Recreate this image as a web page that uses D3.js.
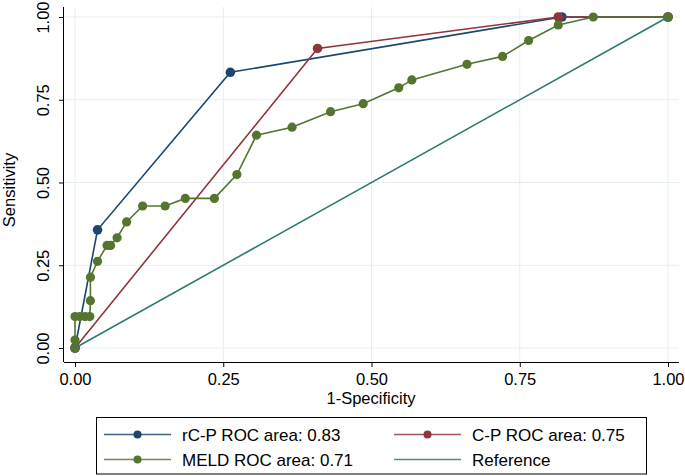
<!DOCTYPE html>
<html><head><meta charset="utf-8">
<script src="https://cdn.jsdelivr.net/npm/d3@7"></script>
<style>body{margin:0;background:#fff}svg{display:block;font-family:"Liberation Sans",Arial,Helvetica,sans-serif}</style>
</head><body><svg id="c" width="685" height="476"></svg>
<script>
const rcpFpr = [0, 0.038, 0.262, 0.821, 1];
const rcpTpr = [0, 0.357, 0.833, 1, 1];
const cpFpr = [0, 0.409, 0.815, 1];
const cpTpr = [0, 0.905, 1, 1];
const meldFpr = [0, 0, 0, 0.008, 0.017, 0.025, 0.026, 0.026, 0.038, 0.054, 0.06, 0.071, 0.087, 0.114, 0.152, 0.186, 0.235, 0.273, 0.306, 0.366, 0.431, 0.486, 0.546, 0.568, 0.661, 0.721, 0.765, 0.815, 0.874, 1, 1];
const meldTpr = [0, 0.024, 0.095, 0.095, 0.095, 0.095, 0.143, 0.214, 0.262, 0.31, 0.31, 0.333, 0.381, 0.429, 0.429, 0.452, 0.452, 0.524, 0.643, 0.667, 0.714, 0.738, 0.786, 0.81, 0.857, 0.881, 0.929, 0.976, 1, 1, 1];
const refFpr = [0, 1];
const refTpr = [0, 1];
const ticks = [0, 0.25, 0.5, 0.75, 1];
const tickLabels = ["0.00", "0.25", "0.50", "0.75", "1.00"];
const legendLabels = ["rC-P ROC area: 0.83", "C-P ROC area: 0.75", "MELD ROC area: 0.71", "Reference"];

const colors = {rcp:"#1a476f", cp:"#90353b", meld:"#55752f", ref:"#2d7a72"};
const svg = d3.select("#c");
const x = d3.scaleLinear().domain([0,1]).range([75,668]);
const y = d3.scaleLinear().domain([0,1]).range([348,17]);
const grid = "#e6eef1";

// gridlines
svg.append("g").selectAll("line.gx").data(ticks).join("line")
  .attr("x1", d=>x(d)).attr("x2", d=>x(d)).attr("y1", 7).attr("y2", 362)
  .attr("stroke", grid).attr("stroke-width", 1);
svg.append("g").selectAll("line.gy").data(ticks).join("line")
  .attr("x1", 64).attr("x2", 679).attr("y1", d=>y(d)).attr("y2", d=>y(d))
  .attr("stroke", grid).attr("stroke-width", 1);

// axes
const xAxis = d3.axisBottom(x).tickValues(ticks).tickFormat((d,i)=>tickLabels[i]).tickSize(5).tickSizeOuter(0);
const gx = svg.append("g").attr("transform","translate(0,362)").call(xAxis);
gx.select(".domain").attr("d","M64,0.5H679").attr("stroke","#000");
gx.selectAll(".tick text").attr("font-size",16.5).attr("fill","#000").attr("dy","0.9em");
gx.selectAll(".tick line").attr("stroke","#000");

const yAxis = d3.axisLeft(y).tickValues(ticks).tickFormat((d,i)=>tickLabels[i]).tickSize(5).tickSizeOuter(0);
const gy = svg.append("g").attr("transform","translate(64,0)").call(yAxis);
gy.select(".domain").attr("d","M-0.5,7V362").attr("stroke","#000");
gy.selectAll(".tick line").attr("stroke","#000");
gy.selectAll(".tick text").attr("font-size",16.5).attr("fill","#000")
  .attr("x",null).attr("dy",null)
  .attr("transform","translate(-15,0) rotate(-90)")
  .attr("text-anchor","middle").attr("dominant-baseline","auto");

svg.append("text").attr("x", 371).attr("y", 404).attr("text-anchor","middle").attr("font-size",16.5).text("1-Specificity");
svg.append("text").attr("transform","translate(15,190) rotate(-90)").attr("text-anchor","middle").attr("font-size",16.5).text("Sensitivity");

const line = d3.line().x(d=>x(d[0])).y(d=>y(d[1]));
function series(fpr, tpr, color, r, markers){
  const pts = fpr.map((f,i)=>[f,tpr[i]]);
  svg.append("path").datum(pts).attr("d", line).attr("fill","none").attr("stroke",color).attr("stroke-width",1.6);
  if (markers) svg.append("g").selectAll("circle").data(pts).join("circle")
    .attr("cx", d=>x(d[0])).attr("cy", d=>y(d[1])).attr("r", r).attr("fill", color);
}
series(rcpFpr, rcpTpr, colors.rcp, 4.8, true);
series(cpFpr, cpTpr, colors.cp, 4.8, true);
series(meldFpr, meldTpr, colors.meld, 4.6, true);
series(refFpr, refTpr, colors.ref, 0, false);

// legend
svg.append("rect").attr("x",96.5).attr("y",417.5).attr("width",550).attr("height",56.5)
  .attr("fill","#fff").attr("stroke","#000").attr("stroke-width",1);
const leg = [
  {lx:104, ly:434.5, c:colors.rcp, m:true, t:legendLabels[0]},
  {lx:394, ly:434.5, c:colors.cp, m:true, t:legendLabels[1]},
  {lx:104, ly:459.5, c:colors.meld, m:true, t:legendLabels[2]},
  {lx:394, ly:459.5, c:colors.ref, m:false, t:legendLabels[3]}
];
leg.forEach(d=>{
  svg.append("line").attr("x1",d.lx).attr("x2",d.lx+67).attr("y1",d.ly).attr("y2",d.ly)
    .attr("stroke",d.c).attr("stroke-width",1.6).attr("stroke-opacity",0.85);
  if (d.m) svg.append("circle").attr("cx",d.lx+33.5).attr("cy",d.ly).attr("r",4).attr("fill",d.c);
  svg.append("text").attr("x",d.lx+78).attr("y",d.ly).attr("dy","0.36em").attr("font-size",17).text(d.t);
});
</script></body></html>
